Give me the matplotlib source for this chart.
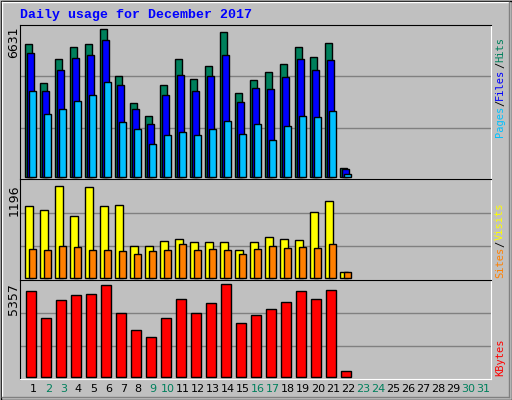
import numpy as np
import matplotlib.pyplot as plt
from matplotlib.patches import Rectangle

days = list(range(1, 32))
weekend = [2, 3, 9, 10, 16, 17, 23, 24, 30, 31]

hits = [5955, 4200, 5280, 5820, 5955, 6631, 4515, 3300, 2715, 4110, 5280,
        4380, 4965, 6495, 3750, 4335, 4695, 5055, 5820, 5370, 6000, 420]
files = [5550, 3840, 4785, 5325, 5460, 6135, 4110, 3030, 2355, 3660, 4560,
         3840, 4515, 5460, 3345, 3975, 3930, 4470, 5280, 4785, 5235, 375]
pages = [3840, 2805, 3030, 3390, 3660, 4245, 2445, 2130, 1500, 1860, 1995,
         1860, 2130, 2490, 1905, 2355, 1680, 2265, 2715, 2670, 2940, 150]
visits = [936, 884, 1196, 806, 1183, 936, 949, 416, 416, 481, 507,
          468, 468, 468, 364, 468, 533, 507, 494, 858, 1001, 78]
sites = [377, 364, 416, 403, 364, 364, 351, 312, 351, 364, 442,
         364, 377, 364, 312, 377, 416, 390, 403, 390, 442, 78]
kbytes = [4944, 3414, 4415, 4709, 4768, 5298, 3708, 2708, 2296, 3414, 4474,
          3708, 4238, 5357, 3120, 3590, 3944, 4297, 4944, 4474, 5003, 353]

W, H = 512, 400
BG = '#C0C0C0'
MONO = 'Liberation Mono'

fig = plt.figure(figsize=(W / 100, H / 100), dpi=100, facecolor=BG)

# outer bevel
bg = fig.add_axes([0, 0, 1, 1])
bg.set_xlim(0, W); bg.set_ylim(H, 0); bg.axis('off')
bg.add_patch(Rectangle((0.5, 0.5), W - 1, H - 1, fill=False, ec='black', lw=1))
bg.plot([2, W - 3], [2, 2], color='white', lw=1)
bg.plot([2, 2], [2, H - 3], color='white', lw=1)
bg.plot([W - 3, W - 3], [2, H - 3], color='#808080', lw=1)
bg.plot([2, W - 3], [H - 3, H - 3], color='#808080', lw=1)
bg.text(20, 15, 'Daily usage for December 2017', color='#0000FF', fontsize=9.5,
        fontweight='bold', family=MONO, va='center', ha='left')


def panel(top, bottom, vmax, maxpx):
    # axes in pixel coords; data y 0 sits 2px above bottom, vmax sits maxpx from top
    x0, x1 = 20, 491
    ax = fig.add_axes([x0 / W, 1 - bottom / H, (x1 - x0) / W, (bottom - top) / H])
    ax.set_facecolor(BG)
    h = bottom - top
    k = vmax / (h - 2 - maxpx)
    ax.set_ylim(-2 * k, (h - 2) * k)
    ax.set_xlim(0, x1 - x0)
    ax.set_xticks([]); ax.set_yticks([])
    for f in (1 / 3, 2 / 3):
        ax.plot([0, 1], [f, f], color='#808080', lw=1, transform=ax.transAxes, zorder=0)
    for s in ['top', 'left']:
        ax.spines[s].set_color('black')
    for s in ['bottom', 'right']:
        ax.spines[s].set_color('white')
    return ax


def bars(ax, vals, off, width, color):
    x = [off + 15 * i for i in range(len(vals))]
    ax.bar(x, vals, width=width, align='edge', color=color, edgecolor='black', lw=1, zorder=2)


ax1 = panel(25, 179, max(hits), 4)
bars(ax1, hits, 5.3, 7, '#00805C')
bars(ax1, files, 7.3, 7, '#0000FF')
bars(ax1, pages, 9.3, 7, '#00C0FF')

ax2 = panel(179, 280, max(visits), 7)
bars(ax2, visits, 5.3, 8, '#FFFF00')
bars(ax2, sites, 9.3, 7, '#FF8000')

ax3 = panel(280, 379, max(kbytes), 4)
bars(ax3, kbytes, 6.3, 10, '#FF0000')

# left max labels
for y, t in [(27, str(max(hits))), (184, str(max(visits))), (283, str(max(kbytes)))]:
    bg.text(14, y, t, rotation=90, fontsize=9, family='DejaVu Sans',
            va='top', ha='center', color='black')

# right legend labels (read bottom to top)
renderer = fig.canvas.get_renderer()
inv = bg.transData.inverted()


def vlabel(y, parts):
    for txt, col in parts:
        t = bg.text(500, y, txt, rotation=90, fontsize=7.5, family='DejaVu Sans Mono',
                    va='bottom', ha='center', color=col)
        ext = t.get_window_extent(renderer)
        (_, ya), (_, yb) = inv.transform([(ext.x0, ext.y0), (ext.x0, ext.y1)])
        y -= abs(ya - yb)

vlabel(137, [('Pages', '#00C0FF'), ('/', 'black'), ('Files', '#0000FF'),
             ('/', 'black'), ('Hits', '#00805C')])
vlabel(278, [('Sites', '#FF8000'), ('/', 'black'), ('Visits', '#FFFF00')])
vlabel(376, [('KBytes', '#FF0000')])

for d in days:
    col = '#00805C' if d in weekend else 'black'
    bg.text(33.3 + 15 * (d - 1), 389, str(d), fontsize=8, color=col,
            ha='center', va='center', family='DejaVu Sans')

fig.savefig('out.png', dpi=100, facecolor=BG)
